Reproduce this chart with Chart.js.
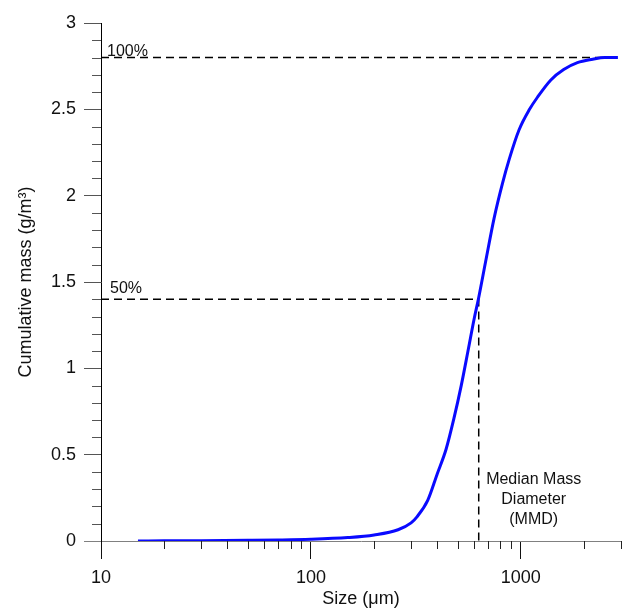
<!DOCTYPE html>
<html>
<head>
<meta charset="utf-8">
<script src="https://cdn.jsdelivr.net/npm/chart.js@4/dist/chart.umd.min.js"></script>
<style>
	body { margin: 0; background: #ffffff; }
	#wrap { width: 626px; height: 613px; }
</style>
</head>
<body>
<div id="wrap"><canvas id="mmd-chart" width="626" height="613"></canvas></div>
<script>
// ── Data ──────────────────────────────────────────────────
const sizes = [ 15, 20, 30, 50, 70, 100, 150, 200, 260, 300, 320, 360, 400, 440, 480, 520, 560, 600, 630, 680, 746, 817, 880, 980, 1100, 1200, 1390, 1600, 1860, 2200, 2500, 2900 ];
const cumMass = [ 0, 0.001, 0.002, 0.004, 0.006, 0.01, 0.02, 0.035, 0.065, 0.105, 0.14, 0.235, 0.39, 0.53, 0.71, 0.9, 1.1, 1.29, 1.41, 1.62, 1.87, 2.07, 2.21, 2.38, 2.5, 2.57, 2.67, 2.73, 2.77, 2.79, 2.8, 2.8 ];

const xMajorTicks = [ 10, 100, 1000 ];
const xMinorTicks = [ 20, 30, 40, 50, 60, 70, 80, 90, 200, 300, 400, 500, 600, 700, 800, 900, 2000, 3000 ];
const yMajorTicks = [ 0, 0.5, 1, 1.5, 2, 2.5, 3 ];
const yMinorTicks = [ 0.1, 0.2, 0.3, 0.4, 0.6, 0.7, 0.8, 0.9, 1.1, 1.2, 1.3, 1.4, 1.6, 1.7, 1.8, 1.9, 2.1, 2.2, 2.3, 2.4, 2.6, 2.7, 2.8, 2.9 ];

const totalMass = 2.8;
const halfMass = 1.4;
const mmdSize = 630;

const fontFamily = 'Arial, "Liberation Sans", sans-serif';

// ── Minor ticks + annotation text ─────────────────────────
const extrasPlugin = {
	id: 'mmdExtras',
	afterDraw( chart ) {
		const { ctx, scales: { x, y } } = chart;
		ctx.save();

		ctx.lineWidth = 1;
		ctx.strokeStyle = '#222222';
		xMinorTicks.forEach( ( v ) => {
			const px = Math.round( x.getPixelForValue( v ) ) + 0.5;
			ctx.beginPath();
			ctx.moveTo( px, y.bottom );
			ctx.lineTo( px, y.bottom + 8 );
			ctx.stroke();
		} );

		ctx.strokeStyle = '#555555';
		yMinorTicks.forEach( ( v ) => {
			const py = Math.round( y.getPixelForValue( v ) ) + 0.5;
			ctx.beginPath();
			ctx.moveTo( x.left - 9, py );
			ctx.lineTo( x.left, py );
			ctx.stroke();
		} );

		ctx.fillStyle = '#111111';
		ctx.font = '16px ' + fontFamily;
		ctx.textAlign = 'left';
		ctx.textBaseline = 'alphabetic';
		ctx.fillText( '100%', x.left + 6, y.getPixelForValue( totalMass ) - 2 );
		ctx.fillText( '50%', x.left + 9, y.getPixelForValue( halfMass ) - 6 );

		ctx.textAlign = 'center';
		ctx.textBaseline = 'middle';
		const cx = x.getPixelForValue( mmdSize ) + 55;
		const base = y.getPixelForValue( 0 );
		ctx.fillText( 'Median Mass', cx, base - 61 );
		ctx.fillText( 'Diameter', cx, base - 41 );
		ctx.fillText( '(MMD)', cx, base - 21 );

		ctx.restore();
	},
};

new Chart( document.getElementById( 'mmd-chart' ), {
	type: 'line',
	data: {
		datasets: [
			{
				label: 'Cumulative mass',
				data: sizes.map( ( s, i ) => ( { x: s, y: cumMass[ i ] } ) ),
				borderColor: '#0a0aff',
				borderWidth: 3,
				pointRadius: 0,
				cubicInterpolationMode: 'monotone',
				fill: false,
				order: 0,
			},
			{
				label: '100%',
				data: [ { x: 10, y: totalMass }, { x: 3000, y: totalMass } ],
				borderColor: '#000000',
				borderWidth: 1.5,
				borderDash: [ 8, 5 ],
				pointRadius: 0,
				order: 1,
			},
			{
				label: '50%',
				data: [ { x: 10, y: halfMass }, { x: mmdSize, y: halfMass }, { x: mmdSize, y: 0 } ],
				borderColor: '#000000',
				borderWidth: 1.5,
				borderDash: [ 8, 5 ],
				pointRadius: 0,
				order: 1,
			},
		],
	},
	options: {
		responsive: false,
		animation: false,
		layout: { padding: { top: 23, right: 5, left: 0, bottom: 0 } },
		plugins: {
			legend: { display: false },
			tooltip: { enabled: false },
		},
		scales: {
			x: {
				type: 'logarithmic',
				min: 10,
				max: 3000,
				afterBuildTicks: ( scale ) => {
					scale.ticks = xMajorTicks.map( ( v ) => ( { value: v } ) );
				},
				afterFit: ( scale ) => {
					scale.height = 72;
				},
				border: { color: '#808080', width: 1 },
				grid: {
					drawOnChartArea: false,
					tickLength: 18,
					tickColor: '#111111',
				},
				ticks: {
					autoSkip: false,
					maxRotation: 0,
					padding: 8,
					color: '#111111',
					font: { size: 18, family: fontFamily },
					callback: ( v ) => String( v ),
				},
				title: {
					display: true,
					text: 'Size (μm)',
					color: '#111111',
					font: { size: 18, family: fontFamily },
					padding: { top: 0, bottom: 3 },
				},
			},
			y: {
				min: 0,
				max: 3,
				afterBuildTicks: ( scale ) => {
					scale.ticks = yMajorTicks.map( ( v ) => ( { value: v } ) );
				},
				afterFit: ( scale ) => {
					scale.width = 101;
				},
				border: { color: '#000000', width: 1 },
				grid: {
					drawOnChartArea: false,
					tickLength: 17,
					tickColor: ( ctx ) => ( ctx.tick && ctx.tick.value === 0 ? '#808080' : '#555555' ),
				},
				ticks: {
					autoSkip: false,
					padding: 8,
					color: '#111111',
					font: { size: 18, family: fontFamily },
					callback: ( v ) => String( v ),
				},
				title: {
					display: true,
					text: 'Cumulative mass (g/m³)',
					color: '#111111',
					font: { size: 18, family: fontFamily },
					padding: { top: 15, bottom: 0 },
				},
			},
		},
	},
	plugins: [ extrasPlugin ],
} );
</script>
</body>
</html>
